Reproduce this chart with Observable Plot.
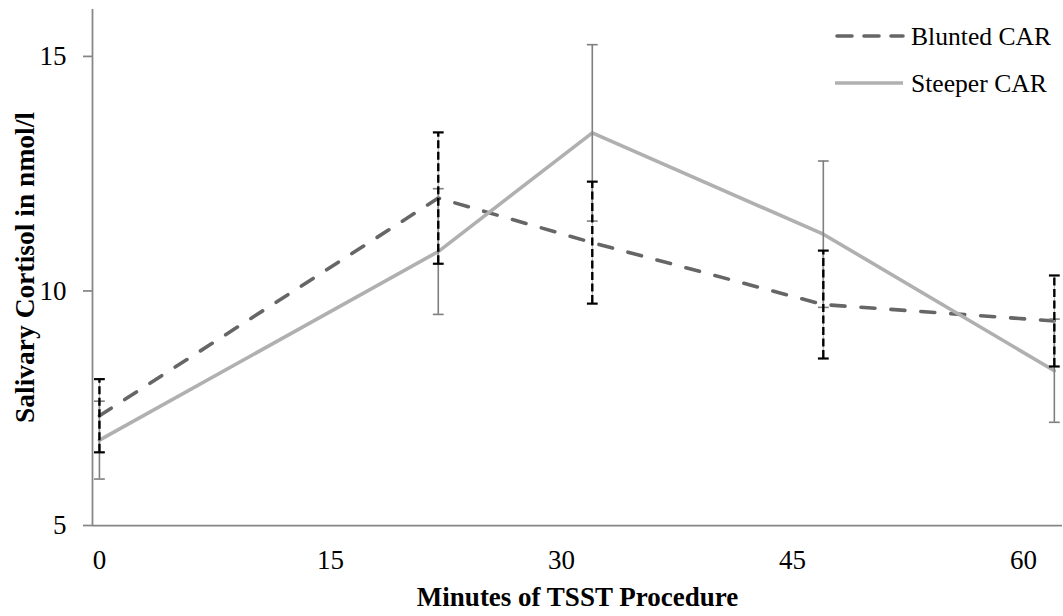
<!DOCTYPE html>
<html>
<head>
<meta charset="utf-8">
<script src="https://cdn.jsdelivr.net/npm/d3@7"></script>
<script src="https://cdn.jsdelivr.net/npm/@observablehq/plot@0.6"></script>
<style>
  html, body { margin: 0; padding: 0; background: #fff; }
  #wrap { position: relative; width: 1063px; height: 616px; }
  #legend { position: absolute; left: 0; top: 0; width: 1063px; height: 120px; pointer-events: none; }
</style>
</head>
<body>
<div id="wrap"></div>
<script>
// ---- data ----
const minutes      = [0, 22, 32, 47, 62];
const bluntedMean  = [7.34, 11.98, 11.03, 9.71, 9.36];
const bluntedErr   = [0.78, 1.40, 1.30, 1.15, 0.97];
const steeperMean  = [6.82, 10.84, 13.37, 11.21, 8.30];
const steeperErr   = [0.83, 1.34, 1.88, 1.56, 1.10];
const xTicks = [0, 15, 30, 45, 60];
const yTicks = [5, 10, 15];
const seriesNames = ["Blunted CAR", "Steeper CAR"];
const xTitle = "Minutes of TSST Procedure";
const yTitle = "Salivary Cortisol in nmol/l";

const blunted = minutes.map((m, i) => ({x: m, y: bluntedMean[i], lo: bluntedMean[i] - bluntedErr[i], hi: bluntedMean[i] + bluntedErr[i]}));
const steeper = minutes.map((m, i) => ({x: m, y: steeperMean[i], lo: steeperMean[i] - steeperErr[i], hi: steeperMean[i] + steeperErr[i]}));

const capSymbol = {
  draw(ctx, size) {
    const w = Math.sqrt(size / Math.PI);
    ctx.moveTo(-w, 0);
    ctx.lineTo(w, 0);
  }
};

const axisGrey = "#868686";
const xDomain = [-0.45, 62.53];
const yDomain = [5, 16];
const bluntedDash = "14 16";

const chart = Plot.plot({
  width: 1063,
  height: 616,
  marginLeft: 92,
  marginRight: 1,
  marginTop: 9,
  marginBottom: 91,
  style: {fontFamily: "'Liberation Serif', serif", fontSize: "27px", color: "#000", background: "#fff"},
  x: {domain: xDomain},
  y: {domain: yDomain},
  marks: [
    // axis lines
    Plot.ruleX([xDomain[0]], {y1: yDomain[0], y2: yDomain[1], stroke: axisGrey, strokeWidth: 1.75}),
    Plot.ruleY([yDomain[0]], {stroke: axisGrey, strokeWidth: 1.75}),
    Plot.axisX({ticks: xTicks, tickSize: 0, tickPadding: 24, label: null, fontSize: 27}),
    Plot.axisY({ticks: yTicks, tickSize: 9, tickPadding: 17, label: null, stroke: axisGrey, strokeWidth: 1.75, fill: "#000", fontSize: 27}),
    // series lines
    Plot.line(blunted, {x: "x", y: "y", stroke: "#666666", strokeWidth: 3.6, strokeDasharray: bluntedDash, strokeLinecap: "round"}),
    Plot.line(steeper, {x: "x", y: "y", stroke: "#b0b0b0", strokeWidth: 3.6}),
    // steeper error bars (grey, solid)
    Plot.ruleX(steeper, {x: "x", y1: "lo", y2: "hi", stroke: "#7f7f7f", strokeWidth: 1.6}),
    Plot.dot(steeper, {x: "x", y: "lo", symbol: capSymbol, r: 5.4, stroke: "#7f7f7f", strokeWidth: 1.6, fill: "none"}),
    Plot.dot(steeper, {x: "x", y: "hi", symbol: capSymbol, r: 5.4, stroke: "#7f7f7f", strokeWidth: 1.6, fill: "none"}),
    // blunted error bars (black, dashed)
    Plot.ruleX(blunted, {x: "x", y1: "lo", y2: "hi", stroke: "#9a9a9a", strokeWidth: 0.8}),
    Plot.ruleX(blunted, {x: "x", y1: "lo", y2: "hi", stroke: "#000", strokeWidth: 2.4, strokeDasharray: "8 3.5"}),
    Plot.dot(blunted, {x: "x", y: "lo", symbol: capSymbol, r: 5.4, stroke: "#000", strokeWidth: 2.2, fill: "none"}),
    Plot.dot(blunted, {x: "x", y: "hi", symbol: capSymbol, r: 5.4, stroke: "#000", strokeWidth: 2.2, fill: "none"}),
    // axis titles
    Plot.text([xTitle], {frameAnchor: "bottom", textAnchor: "middle", lineAnchor: "middle", dy: 72, fontWeight: "bold", fontSize: 27, fill: "#000"}),
    Plot.text([yTitle], {frameAnchor: "left", textAnchor: "middle", lineAnchor: "middle", dx: -67, rotate: -90, fontWeight: "bold", fontSize: 27.5, fill: "#000"})
  ]
});

const wrap = document.getElementById("wrap");
wrap.appendChild(chart);

// legend (drawn over the top-right corner)
const ns = "http://www.w3.org/2000/svg";
const leg = document.createElementNS(ns, "svg");
leg.setAttribute("id", "legend");
leg.setAttribute("width", 1063);
leg.setAttribute("height", 120);
const legendRows = [
  {name: seriesNames[0], y: 36, stroke: "#666666", dash: "15 12", cap: "round"},
  {name: seriesNames[1], y: 83, stroke: "#b0b0b0", dash: null, cap: "butt"}
];
legendRows.forEach(r => {
  const ln = document.createElementNS(ns, "line");
  ln.setAttribute("x1", r.dash ? 837 : 835);
  ln.setAttribute("x2", 903);
  ln.setAttribute("y1", r.y);
  ln.setAttribute("y2", r.y);
  ln.setAttribute("stroke", r.stroke);
  ln.setAttribute("stroke-width", 3.6);
  ln.setAttribute("stroke-linecap", r.cap);
  if (r.dash) ln.setAttribute("stroke-dasharray", r.dash);
  leg.appendChild(ln);
  const t = document.createElementNS(ns, "text");
  t.setAttribute("x", 911);
  t.setAttribute("y", r.y);
  t.setAttribute("dy", "0.35em");
  t.setAttribute("font-family", "'Liberation Serif', serif");
  t.setAttribute("font-size", "25.6px");
  t.setAttribute("fill", "#000");
  t.textContent = r.name;
  leg.appendChild(t);
});
wrap.appendChild(leg);
</script>
</body>
</html>
